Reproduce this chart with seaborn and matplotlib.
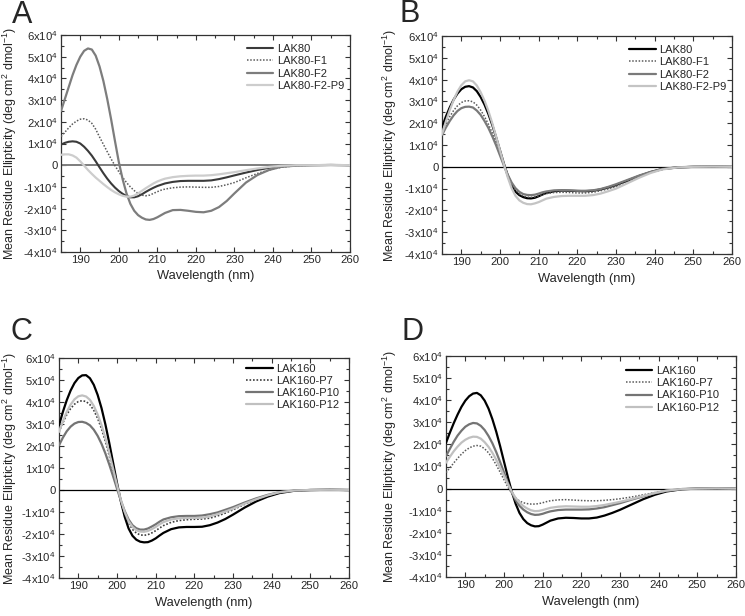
import numpy as np
import pandas as pd
import matplotlib
matplotlib.use("Agg")
import matplotlib.pyplot as plt
import seaborn as sns
from matplotlib.ticker import MultipleLocator, FixedLocator, FixedFormatter

# ---------------- data (ellipticity in units of 1e4 deg cm2 dmol-1) ----------------
wavelength = list(range(185, 213)) + [214, 216, 218, 220, 222, 224, 226, 228, 230,
                                      233, 236, 239, 242, 246, 250, 255, 260]

# Panel A
a_lak80 = [0.95, 1.03, 1.08, 1.10, 1.08, 1.00, 0.85, 0.66, 0.44, 0.18,
           -0.10, -0.37, -0.62, -0.84, -1.03, -1.19, -1.32, -1.42, -1.48, -1.48,
           -1.43, -1.34, -1.23, -1.13, -1.04, -0.96, -0.90, -0.84,
           -0.77, -0.73, -0.72, -0.72, -0.72, -0.70, -0.64, -0.56, -0.47,
           -0.34, -0.22, -0.12, -0.05, -0.01, 0.0, 0.01, 0.0]
a_f1 = [1.32, 1.52, 1.72, 1.90, 2.03, 2.12, 2.14, 2.08, 1.93, 1.66,
        1.30, 0.96, 0.62, 0.29, -0.02, -0.30, -0.56, -0.80, -1.00, -1.17,
        -1.30, -1.38, -1.41, -1.38, -1.30, -1.22, -1.15, -1.10,
        -1.04, -1.01, -1.00, -1.01, -1.02, -1.02, -0.98, -0.90, -0.80,
        -0.58, -0.38, -0.22, -0.10, -0.02, 0.0, 0.01, 0.0]
a_f2 = [2.50, 3.05, 3.60, 4.15, 4.62, 5.00, 5.27, 5.38, 5.33, 5.05,
        4.55, 3.88, 3.05, 2.12, 1.12, 0.15, -0.65, -1.30, -1.78, -2.10,
        -2.30, -2.42, -2.50, -2.52, -2.48, -2.40, -2.30, -2.20,
        -2.07, -2.06, -2.10, -2.15, -2.17, -2.10, -1.93, -1.65, -1.30,
        -0.80, -0.45, -0.22, -0.08, -0.02, 0.0, 0.01, 0.0]
a_f2p9 = [0.48, 0.50, 0.50, 0.45, 0.35, 0.18, -0.02, -0.22, -0.40, -0.57,
          -0.72, -0.87, -1.01, -1.14, -1.25, -1.34, -1.41, -1.45, -1.45, -1.40,
          -1.30, -1.18, -1.06, -0.95, -0.84, -0.75, -0.68, -0.62,
          -0.55, -0.51, -0.49, -0.48, -0.48, -0.46, -0.42, -0.37, -0.32,
          -0.23, -0.15, -0.08, -0.03, 0.0, 0.0, 0.01, 0.0]

# Panel B
b_lak80 = [1.82, 2.30, 2.72, 3.08, 3.36, 3.56, 3.67, 3.70, 3.64, 3.47,
           3.20, 2.85, 2.42, 1.92, 1.35, 0.75, 0.15, -0.40, -0.84, -1.14,
           -1.30, -1.39, -1.44, -1.45, -1.42, -1.35, -1.27, -1.20,
           -1.12, -1.09, -1.10, -1.11, -1.12, -1.10, -1.04, -0.95, -0.84,
           -0.63, -0.42, -0.24, -0.10, -0.03, 0.0, 0.01, 0.0]
b_f1 = [1.62, 1.98, 2.30, 2.58, 2.80, 2.95, 3.02, 3.03, 2.98, 2.83,
        2.60, 2.30, 1.95, 1.55, 1.08, 0.58, 0.08, -0.38, -0.78, -1.06,
        -1.24, -1.34, -1.39, -1.40, -1.38, -1.33, -1.27, -1.23,
        -1.18, -1.17, -1.18, -1.20, -1.20, -1.17, -1.10, -1.01, -0.90,
        -0.68, -0.45, -0.26, -0.12, -0.03, 0.0, 0.01, 0.0]
b_f2 = [1.45, 1.80, 2.10, 2.36, 2.56, 2.69, 2.75, 2.76, 2.72, 2.58,
        2.38, 2.10, 1.78, 1.40, 0.98, 0.52, 0.06, -0.36, -0.72, -0.98,
        -1.15, -1.25, -1.29, -1.30, -1.28, -1.23, -1.17, -1.13,
        -1.08, -1.07, -1.08, -1.10, -1.10, -1.08, -1.02, -0.92, -0.80,
        -0.60, -0.40, -0.23, -0.10, -0.02, 0.0, 0.01, 0.0]
b_f2p9 = [1.50, 2.08, 2.60, 3.06, 3.45, 3.74, 3.92, 3.97, 3.92, 3.73,
          3.42, 3.03, 2.56, 2.00, 1.38, 0.75, 0.12, -0.48, -0.98, -1.33,
          -1.54, -1.65, -1.71, -1.72, -1.68, -1.62, -1.54, -1.46,
          -1.38, -1.34, -1.33, -1.33, -1.33, -1.30, -1.23, -1.12, -1.00,
          -0.75, -0.50, -0.28, -0.12, -0.03, 0.0, 0.01, 0.0]

# Panel C
c_lak160 = [2.94, 3.55, 4.08, 4.52, 4.86, 5.09, 5.21, 5.22, 5.08, 4.78,
            4.32, 3.72, 2.98, 2.14, 1.23, 0.32, -0.52, -1.22, -1.75, -2.08,
            -2.26, -2.35, -2.38, -2.37, -2.30, -2.20, -2.07, -1.95,
            -1.78, -1.70, -1.68, -1.68, -1.67, -1.60, -1.48, -1.32, -1.12,
            -0.80, -0.52, -0.30, -0.14, -0.03, 0.0, 0.01, 0.0]
c_p7 = [2.64, 3.05, 3.42, 3.70, 3.90, 4.02, 4.06, 4.02, 3.88, 3.62,
        3.25, 2.78, 2.20, 1.55, 0.85, 0.15, -0.52, -1.08, -1.50, -1.79,
        -1.96, -2.04, -2.06, -2.03, -1.95, -1.85, -1.73, -1.62,
        -1.47, -1.39, -1.35, -1.33, -1.32, -1.28, -1.18, -1.05, -0.90,
        -0.65, -0.43, -0.25, -0.12, -0.03, 0.0, 0.01, 0.0]
c_p10 = [2.03, 2.38, 2.67, 2.88, 3.02, 3.09, 3.10, 3.05, 2.94, 2.74,
         2.46, 2.10, 1.66, 1.16, 0.62, 0.06, -0.48, -0.96, -1.34, -1.60,
         -1.74, -1.80, -1.80, -1.75, -1.66, -1.56, -1.44, -1.34,
         -1.24, -1.19, -1.18, -1.18, -1.16, -1.10, -1.02, -0.90, -0.78,
         -0.57, -0.38, -0.22, -0.10, -0.02, 0.0, 0.01, 0.0]
c_p12 = [2.64, 3.12, 3.55, 3.88, 4.12, 4.26, 4.30, 4.25, 4.10, 3.82,
         3.43, 2.95, 2.36, 1.69, 0.96, 0.23, -0.45, -1.00, -1.42, -1.68,
         -1.83, -1.89, -1.90, -1.86, -1.78, -1.68, -1.56, -1.46,
         -1.34, -1.29, -1.27, -1.27, -1.26, -1.20, -1.10, -0.98, -0.85,
         -0.62, -0.42, -0.24, -0.10, -0.02, 0.0, 0.01, 0.0]

# Panel D
d_lak160 = [2.07, 2.53, 2.96, 3.35, 3.70, 3.98, 4.18, 4.30, 4.33, 4.22,
            3.98, 3.62, 3.14, 2.57, 1.92, 1.22, 0.52, -0.13, -0.68, -1.10,
            -1.38, -1.56, -1.66, -1.71, -1.70, -1.63, -1.54, -1.45,
            -1.35, -1.32, -1.33, -1.35, -1.35, -1.31, -1.22, -1.10, -0.96,
            -0.72, -0.48, -0.28, -0.13, -0.03, 0.0, 0.01, 0.0]
d_p7 = [0.72, 0.94, 1.16, 1.37, 1.56, 1.72, 1.84, 1.92, 1.95, 1.92,
        1.80, 1.62, 1.37, 1.07, 0.74, 0.40, 0.07, -0.21, -0.42, -0.56,
        -0.64, -0.68, -0.70, -0.70, -0.68, -0.64, -0.59, -0.55,
        -0.51, -0.50, -0.52, -0.54, -0.55, -0.55, -0.53, -0.50, -0.46,
        -0.38, -0.28, -0.18, -0.10, -0.03, 0.0, 0.01, 0.0]
d_p10 = [1.47, 1.80, 2.12, 2.40, 2.62, 2.80, 2.91, 2.97, 2.95, 2.84,
         2.65, 2.38, 2.05, 1.65, 1.20, 0.73, 0.26, -0.17, -0.52, -0.78,
         -0.95, -1.07, -1.15, -1.19, -1.18, -1.14, -1.08, -1.03,
         -0.97, -0.95, -0.95, -0.95, -0.94, -0.90, -0.84, -0.75, -0.66,
         -0.50, -0.35, -0.21, -0.10, -0.02, 0.0, 0.01, 0.0]
d_p12 = [1.17, 1.44, 1.69, 1.90, 2.08, 2.21, 2.30, 2.35, 2.34, 2.26,
         2.10, 1.89, 1.62, 1.30, 0.95, 0.58, 0.21, -0.14, -0.42, -0.63,
         -0.79, -0.90, -0.98, -1.02, -1.01, -0.97, -0.92, -0.87,
         -0.82, -0.80, -0.81, -0.82, -0.82, -0.79, -0.74, -0.67, -0.60,
         -0.47, -0.33, -0.20, -0.09, -0.02, 0.0, 0.01, 0.0]

labels_ab = ["LAK80", "LAK80-F1", "LAK80-F2", "LAK80-F2-P9"]
labels_cd = ["LAK160", "LAK160-P7", "LAK160-P10", "LAK160-P12"]

ytick_values = [-4, -3, -2, -1, 0, 1, 2, 3, 4, 5, 6]
ytick_labels = ["-4x10$^4$", "-3x10$^4$", "-2x10$^4$", "-1x10$^4$", "0",
                "1x10$^4$", "2x10$^4$", "3x10$^4$", "4x10$^4$", "5x10$^4$", "6x10$^4$"]
xtick_values = [190, 200, 210, 220, 230, 240, 250, 260]
panel_letters = ["A", "B", "C", "D"]
SCALE = 1e4

# ---------------- style ----------------
sns.set_style("ticks")
plt.rcParams["font.family"] = ["Liberation Sans", "DejaVu Sans"]
plt.rcParams["mathtext.fontset"] = "custom"
plt.rcParams["mathtext.rm"] = "Liberation Sans"
plt.rcParams["mathtext.it"] = "Liberation Sans:italic"
plt.rcParams["mathtext.bf"] = "Liberation Sans:bold"

W, H = 745, 616
fig = plt.figure(figsize=(W / 100, H / 100), dpi=100)

# axes boxes in pixels: left, right, top, bottom
boxes = [(61, 350, 35, 252), (442, 732, 36, 254), (59, 349, 358, 578), (446, 736, 356, 577)]
letter_pos = [(12, 23), (399, 22), (11, 340), (401, 340)]
legend_anchor = [(0.643, 0.958), (0.645, 0.958), (0.645, 0.975), (0.62, 0.955)]
ylabel_right_px = 19  # right edge of the rotated y label, in pixels left of... absolute x

dotted = (0, (1.0, 1.1))
styles = [
    [dict(color="#3a3a3a", lw=1.5, ls="-"), dict(color="#5a5a5a", lw=1.1, ls=dotted),
     dict(color="#7d7d7d", lw=1.6, ls="-"), dict(color="#cdcdcd", lw=1.6, ls="-")],
    [dict(color="#000000", lw=1.6, ls="-"), dict(color="#5a5a5a", lw=1.1, ls=dotted),
     dict(color="#7a7a7a", lw=1.6, ls="-"), dict(color="#c4c4c4", lw=1.6, ls="-")],
    [dict(color="#000000", lw=1.6, ls="-"), dict(color="#3c3c3c", lw=1.2, ls=dotted),
     dict(color="#747474", lw=1.6, ls="-"), dict(color="#c0c0c0", lw=1.6, ls="-")],
    [dict(color="#000000", lw=1.6, ls="-"), dict(color="#5a5a5a", lw=1.1, ls=dotted),
     dict(color="#747474", lw=1.6, ls="-"), dict(color="#c0c0c0", lw=1.6, ls="-")],
]
panel_series = [
    (labels_ab, [a_lak80, a_f1, a_f2, a_f2p9]),
    (labels_ab, [b_lak80, b_f1, b_f2, b_f2p9]),
    (labels_cd, [c_lak160, c_p7, c_p10, c_p12]),
    (labels_cd, [d_lak160, d_p7, d_p10, d_p12]),
]
zero_line = [dict(color="#7d7d7d", lw=1.4), dict(color="black", lw=0.9),
             dict(color="black", lw=0.9), dict(color="black", lw=0.9)]

for i, ((l, r, t, b), (names, series)) in enumerate(zip(boxes, panel_series)):
    ax = fig.add_axes([l / W, 1 - b / H, (r - l) / W, (b - t) / H])
    ax.axhline(0, zorder=1, **zero_line[i])
    for name, vals, st in zip(names, series, styles[i]):
        df = pd.DataFrame({"wl": wavelength, "val": np.array(vals) * SCALE})
        sns.lineplot(data=df, x="wl", y="val", ax=ax, color=st["color"], linewidth=st["lw"],
                     linestyle=st["ls"], label=name, estimator=None, sort=False, zorder=3)
    ax.set_xlim(185, 260)
    ax.set_ylim(-4 * SCALE, 6 * SCALE)
    ax.xaxis.set_major_locator(FixedLocator(xtick_values))
    ax.xaxis.set_minor_locator(MultipleLocator(5))
    ax.yaxis.set_major_locator(FixedLocator([v * SCALE for v in ytick_values]))
    ax.yaxis.set_major_formatter(FixedFormatter(ytick_labels))
    ax.yaxis.set_minor_locator(MultipleLocator(0.5 * SCALE))
    ax.tick_params(which="both", direction="in", top=True, right=True, labelsize=8.1,
                   color="#333333", width=0.8, pad=2.5)
    ax.tick_params(which="major", length=3.5)
    ax.tick_params(which="minor", length=2)
    for sp in ax.spines.values():
        sp.set_color("#333333")
        sp.set_linewidth(0.9)
    ax.set_xlabel("Wavelength (nm)", fontsize=9.3)
    ax.set_ylabel("Mean Residue Ellipticity (deg cm$^{2}$ dmol$^{-1}$)", fontsize=9.0)
    ax.xaxis.set_label_coords(0.5, -0.085)
    ref_x = 19 if l < 372 else 19 + 380
    ax.yaxis.set_label_coords((ref_x - l) / (r - l), 0.5)
    ax.legend(loc="upper left", bbox_to_anchor=legend_anchor[i], frameon=False,
              fontsize=8.0, handlelength=2.4, handletextpad=0.3, labelspacing=0.2,
              borderpad=0, borderaxespad=0)
    lx, ly = letter_pos[i]
    fig.text(lx / W, 1 - ly / H, panel_letters[i], fontsize=22, ha="left", va="baseline")

fig.savefig("out.png", dpi=100)
